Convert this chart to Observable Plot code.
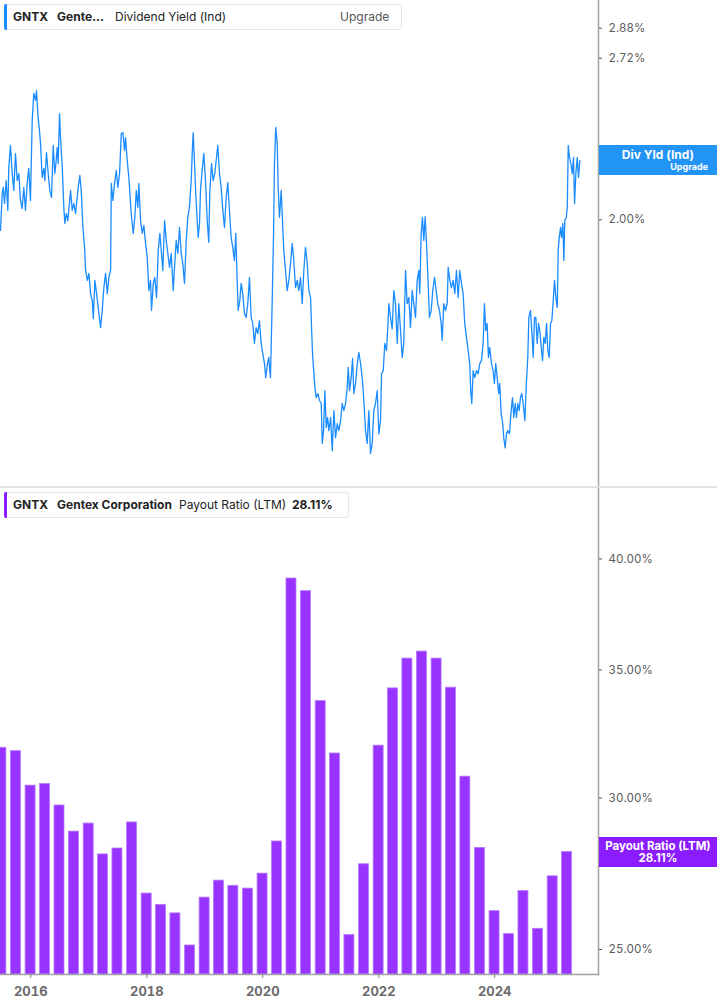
<!DOCTYPE html>
<html>
<head>
<meta charset="utf-8">
<script src="https://cdn.jsdelivr.net/npm/d3@7"></script>
<script src="https://cdn.jsdelivr.net/npm/@observablehq/plot@0.6"></script>
<style>
html,body{margin:0;padding:0;background:#fff;}
body{width:717px;height:1005px;position:relative;overflow:hidden;font-family:Inter,"Noto Sans",sans-serif;}
#topPanel{position:absolute;left:0;top:0;}
#bottomPanel{position:absolute;left:0;top:488px;}
.sep{position:absolute;left:0;top:486px;width:717px;height:2px;background:#e2e2e2;}
.hdr{position:absolute;left:4px;height:26px;border:1px solid #e6e6e6;border-radius:3px;background:#fff;box-sizing:border-box;font-size:12px;color:#222;white-space:nowrap;}
.hdr .bar{position:absolute;left:-1px;top:-1px;bottom:-1px;width:3px;border-radius:2px 0 0 2px;}
.hdr span{position:absolute;top:5px;line-height:14px;}
.b{font-weight:700;}
.tag{position:absolute;left:599px;width:118px;height:30px;color:#fff;font-weight:700;box-sizing:border-box;}
</style>
</head>
<body>
<div id="topPanel"></div>
<div class="sep"></div>
<div id="bottomPanel"></div>

<div class="hdr" style="top:4px;width:398px;">
  <div class="bar" style="background:#1a8cff"></div>
  <span class="b" style="left:8px">GNTX</span>
  <span class="b" style="left:52px">Gente…</span>
  <span style="left:110px">Dividend Yield (Ind)</span>
  <span style="left:335px;color:#555">Upgrade</span>
</div>
<div class="hdr" style="top:492px;width:345px;">
  <div class="bar" style="background:#8a1cff"></div>
  <span class="b" style="left:8px">GNTX</span>
  <span class="b" style="left:52px">Gentex Corporation</span>
  <span style="left:174px">Payout Ratio (LTM)</span>
  <span class="b" style="left:287px">28.11%</span>
</div>

<div id="dyTag" class="tag" style="background:#2394f7">
  <div style="position:absolute;left:0;width:118px;top:3px;text-align:center;font-size:12px;line-height:13px;">Div Yld (Ind)</div>
  <div style="position:absolute;right:9px;top:17px;font-size:9px;line-height:10px;">Upgrade</div>
</div>
<div id="prTag" class="tag" style="background:#8a1cff">
  <div style="position:absolute;left:0;width:118px;top:3px;text-align:center;font-size:11.5px;line-height:12px;">Payout Ratio (LTM)</div>
  <div style="position:absolute;left:0;width:118px;top:15px;text-align:center;font-size:11.5px;line-height:12px;">28.11%</div>
</div>

<script>
// ---------- Data ----------
// Dividend yield (Ind), %, sampled from the chart; times as decimal years
const dyTime = [
2015.478,2015.507,2015.525,2015.547,2015.576,2015.604,2015.621,2015.650,2015.680,2015.707,
2015.737,2015.766,2015.794,2015.823,2015.852,2015.880,2015.909,2015.938,2015.966,2015.995,
2016.025,2016.052,2016.081,2016.099,2016.121,2016.150,2016.168,2016.197,2016.225,2016.242,
2016.271,2016.300,2016.328,2016.357,2016.386,2016.414,2016.438,2016.455,2016.472,2016.495,
2016.512,2016.542,2016.569,2016.587,2016.611,2016.638,2016.685,2016.714,2016.742,2016.771,
2016.811,2016.845,2016.869,2016.897,2016.926,2016.944,2016.973,2017.000,2017.030,2017.059,
2017.076,2017.104,2017.133,2017.173,2017.202,2017.231,2017.259,2017.288,2017.318,2017.345,
2017.375,2017.387,2017.414,2017.444,2017.473,2017.500,2017.530,2017.559,2017.587,2017.616,
2017.633,2017.662,2017.690,2017.731,2017.766,2017.793,2017.818,2017.845,2017.862,2017.892,
2017.921,2017.949,2017.978,2018.007,2018.035,2018.064,2018.081,2018.111,2018.138,2018.168,
2018.197,2018.225,2018.249,2018.276,2018.306,2018.335,2018.362,2018.392,2018.421,2018.456,
2018.478,2018.507,2018.535,2018.564,2018.593,2018.621,2018.650,2018.680,2018.707,2018.736,
2018.766,2018.783,2018.800,2018.823,2018.845,
2018.869,2018.886,2018.909,2018.926,2018.955,2018.983,2019.012,2019.042,2019.069,2019.086,
2019.116,2019.145,2019.173,2019.197,2019.224,2019.254,2019.283,2019.311,2019.340,2019.369,
2019.397,2019.426,2019.455,2019.483,2019.512,2019.535,2019.559,2019.576,2019.604,2019.628,
2019.655,2019.685,2019.714,2019.742,2019.771,2019.800,2019.828,2019.857,2019.886,2019.914,
2019.943,2019.973,2020.000,2020.030,2020.052,2020.081,2020.104,2020.133,2020.162,2020.185,
2020.202,2020.224,2020.249,2020.266,2020.288,2020.318,2020.340,2020.362,2020.392,2020.421,
2020.449,2020.478,2020.507,2020.535,2020.564,2020.593,2020.621,2020.650,2020.680,2020.707,
2020.736,2020.766,2020.793,2020.823,2020.840,2020.857,2020.880,2020.897,2020.921,2020.949,
2020.978,2021.007,2021.024,2021.047,2021.069,2021.093,2021.116,2021.138,2021.168,2021.197,
2021.225,2021.254,2021.283,2021.311,2021.340,2021.369,2021.397,2021.426,2021.455,2021.473,
2021.495,2021.524,2021.547,2021.569,2021.599,2021.628,2021.655,2021.685,2021.714,2021.742,
2021.771,2021.800,2021.828,2021.857,2021.886,2021.914,2021.943,2021.973,2022.000,2022.030,
2022.047,2022.076,2022.104,2022.133,2022.155,2022.173,2022.202,2022.231,2022.259,2022.288,
2022.318,2022.345,2022.375,2022.404,2022.431,2022.461,2022.490,2022.518,2022.547,2022.576,
2022.604,2022.633,2022.662,2022.690,2022.707,2022.731,2022.754,2022.776,2022.800,2022.823,
2022.845,2022.874,2022.904,2022.931,2022.961,2022.990,2023.017,2023.047,2023.076,2023.093,
2023.121,2023.150,2023.180,2023.197,2023.225,2023.254,2023.283,2023.311,2023.340,2023.369,
2023.397,2023.426,2023.455,2023.483,2023.512,2023.542,2023.569,2023.586,2023.604,2023.628,
2023.655,2023.685,2023.714,2023.742,2023.771,2023.800,2023.823,2023.845,2023.869,2023.892,
2023.914,2023.943,2023.973,2023.995,2024.017,2024.042,2024.069,2024.086,2024.111,2024.138,
2024.155,2024.180,2024.202,2024.225,2024.254,2024.283,2024.306,2024.328,2024.352,2024.375,
2024.397,2024.421,2024.443,2024.466,2024.490,2024.518,2024.547,2024.569,2024.587,2024.616,
2024.645,2024.662,2024.685,2024.707,2024.731,2024.754,2024.776,2024.800,2024.823,2024.845,
2024.869,2024.892,2024.914,2024.938,2024.961,2024.983,2025.007,2025.030,2025.052,2025.076,
2025.093,2025.111,2025.133,2025.150,2025.173,2025.190,2025.207,2025.231,2025.249,2025.266,
2025.288,2025.311,2025.335,2025.357,2025.375,2025.397,2025.421,2025.443,2025.466
];
const dyValue = [
1.960,2.103,2.127,2.063,2.155,2.036,2.210,2.304,2.184,2.115,
2.269,2.155,2.184,2.075,2.044,2.127,2.036,2.143,2.205,2.075,
2.416,2.544,2.510,2.558,2.448,2.370,2.313,2.168,2.205,2.155,
2.273,2.184,2.115,2.087,2.304,2.184,2.239,2.295,2.226,2.448,
2.339,2.210,2.048,1.986,2.024,1.997,2.115,2.036,2.063,2.024,
2.115,2.176,2.115,1.971,1.898,1.816,1.782,1.806,1.738,1.715,
1.657,1.782,1.738,1.673,1.629,1.683,1.758,1.806,1.738,1.792,
1.816,2.143,2.075,2.143,2.197,2.127,2.184,2.357,2.361,2.282,
2.339,2.239,2.168,2.024,1.949,2.009,2.115,2.048,2.143,1.997,
1.949,1.979,1.912,1.862,1.748,1.782,1.683,1.772,1.792,1.725,
1.887,1.949,1.887,1.816,1.997,1.923,1.876,1.827,1.876,1.748,
1.827,1.923,1.876,1.971,1.876,1.840,1.772,1.923,2.009,2.048,
2.155,2.269,2.361,2.226,2.103,
1.997,1.934,1.986,2.115,2.197,2.269,2.155,1.997,1.916,2.103,
2.226,2.155,2.184,2.239,2.304,2.184,2.127,2.036,1.971,2.087,
2.147,2.036,1.934,1.898,1.851,1.949,1.782,1.683,1.715,1.772,
1.738,1.673,1.661,1.705,1.792,1.661,1.642,1.581,1.629,1.611,
1.651,1.581,1.551,1.521,1.481,1.521,1.539,1.481,1.705,1.934,
2.226,2.384,2.313,2.127,2.009,2.115,1.997,1.887,1.816,1.748,
1.782,1.840,1.912,1.851,1.758,1.782,1.748,1.792,1.705,1.816,
1.898,1.840,1.748,1.725,1.629,1.551,1.492,1.453,1.426,1.437,
1.418,1.410,1.307,1.339,1.445,1.347,1.373,1.339,1.373,1.289,
1.391,1.321,1.357,1.339,1.365,1.410,1.391,1.410,1.453,1.510,
1.445,1.481,1.536,1.437,1.465,1.521,1.554,1.521,1.481,1.418,
1.339,1.307,1.391,1.282,1.307,1.391,1.410,1.445,1.331,1.365,
1.492,1.501,1.581,1.560,1.629,1.705,1.661,1.625,1.748,1.705,
1.581,1.705,1.620,1.539,1.581,1.816,1.705,1.725,1.629,1.748,
1.705,1.661,1.782,1.816,1.738,1.949,2.009,1.923,2.012,1.912,
1.806,1.661,1.683,1.748,1.792,1.748,1.705,1.683,1.642,1.590,
1.705,1.683,1.705,1.827,1.782,1.758,1.782,1.738,1.816,1.725,
1.816,1.772,1.738,1.642,1.599,1.560,1.521,1.445,1.410,1.501,
1.481,1.501,1.492,1.521,1.530,1.581,1.705,1.620,1.642,1.539,
1.569,1.521,1.501,1.465,1.521,1.481,1.437,1.465,1.383,1.357,
1.321,1.296,1.331,1.339,1.331,1.391,1.426,1.373,1.410,1.373,
1.410,1.391,1.426,1.437,1.410,1.365,1.473,1.539,1.661,1.683,
1.599,1.539,1.661,1.661,1.581,1.642,1.620,1.569,1.530,1.599,
1.581,1.642,1.560,1.539,1.642,1.651,1.715,1.782,1.725,1.693,
1.887,1.934,1.971,1.934,1.986,1.851,1.997,2.009,2.048,2.304,
2.252,2.226,2.184,2.252,2.063,2.184,2.252,2.168,2.239
];

// Payout ratio (LTM), %, quarterly (quarter-end dates)
const payoutQuarter = [
"2015-06-30","2015-09-30","2015-12-31","2016-03-31","2016-06-30","2016-09-30","2016-12-31","2017-03-31",
"2017-06-30","2017-09-30","2017-12-31","2018-03-31","2018-06-30","2018-09-30","2018-12-31","2019-03-31",
"2019-06-30","2019-09-30","2019-12-31","2020-03-31","2020-06-30","2020-09-30","2020-12-31","2021-03-31",
"2021-06-30","2021-09-30","2021-12-31","2022-03-31","2022-06-30","2022-09-30","2022-12-31","2023-03-31",
"2023-06-30","2023-09-30","2023-12-31","2024-03-31","2024-06-30","2024-09-30","2024-12-31","2025-03-31"
];
const payoutValue = [
31.87,31.74,30.45,30.51,29.73,28.81,29.09,28.03,
28.23,29.13,26.74,26.38,26.11,25.12,26.61,27.16,
26.99,26.90,27.39,28.47,39.07,38.48,33.71,31.65,
25.44,27.70,31.95,34.23,35.48,35.78,35.48,34.26,
30.78,28.25,26.18,25.47,26.82,25.63,27.30,28.11
];

// Axis ticks
const yieldTicks = [2.00, 2.72, 2.88];
const payoutTicks = [25, 30, 35, 40];
const yearTicks = [2016, 2018, 2020, 2022, 2024];

// ---------- Helpers ----------
function fromDecimalYear(t) {
  const y = Math.floor(t);
  const a = Date.UTC(y, 0, 1), b = Date.UTC(y + 1, 0, 1);
  return new Date(a + (t - y) * (b - a));
}
const DAY = 86400000;
const nPts = Math.min(dyTime.length, dyValue.length);
const dyData = d3.range(nPts).map(i => ({date: fromDecimalYear(dyTime[i]), value: dyValue[i]}));
const prData = payoutQuarter.map((q, i) => ({date: new Date(q + "T00:00:00Z"), value: payoutValue[i]}));

const xDomain = [fromDecimalYear(2015.478), fromDecimalYear(2025.788)];
const yTopDomain = [1.2017, 3.0358];
const yBotDomain = [24.258, 43.54];
const axisGray = "#a2a2a2";
const fontStack = "Inter, 'Noto Sans', sans-serif";

// ---------- Top panel: dividend yield ----------
const topChart = Plot.plot({
  width: 717, height: 487,
  marginLeft: 0, marginRight: 119, marginTop: 0, marginBottom: 0,
  style: {fontFamily: fontStack, background: "transparent", overflow: "visible"},
  x: {type: "utc", domain: xDomain, axis: null},
  y: {type: "log", domain: yTopDomain},
  marks: [
    Plot.frame({anchor: "right", stroke: axisGray, strokeWidth: 1.5}),
    Plot.axisY(yieldTicks, {anchor: "right", tickSize: 3, tickPadding: 7, stroke: "#555",
      tickFormat: d => d.toFixed(2) + "%", fill: "#5a5a5a", fontSize: 11.5, label: null}),
    Plot.line(dyData, {x: "date", y: "value", stroke: "#1a8cff", strokeWidth: 1.3, strokeLinejoin: "round"})
  ]
});
document.getElementById("topPanel").appendChild(topChart);

// ---------- Bottom panel: payout ratio ----------
const halfBar = 31.5 * DAY;
const bottomChart = Plot.plot({
  width: 717, height: 517,
  marginLeft: 0, marginRight: 119, marginTop: 0, marginBottom: 31,
  style: {fontFamily: fontStack, background: "transparent", overflow: "visible"},
  x: {type: "utc", domain: xDomain},
  y: {type: "log", domain: yBotDomain},
  marks: [
    Plot.rect(prData, {
      x1: d => new Date(+d.date - halfBar), x2: d => new Date(+d.date + halfBar),
      y1: () => yBotDomain[0], y2: "value",
      fill: "#9933ff", stroke: "#b47bff", strokeWidth: 0.8
    }),
    Plot.frame({anchor: "right", stroke: axisGray, strokeWidth: 1.5}),
    Plot.frame({anchor: "bottom", stroke: axisGray, strokeWidth: 1.5}),
    Plot.axisY(payoutTicks, {anchor: "right", tickSize: 3, tickPadding: 7, stroke: "#555",
      tickFormat: d => d.toFixed(2) + "%", fill: "#5a5a5a", fontSize: 11.5, label: null}),
    Plot.axisX(yearTicks.map(y => new Date(Date.UTC(y, 0, 1))), {anchor: "bottom", tickSize: 4, tickPadding: 8,
      stroke: "#888", tickFormat: d3.utcFormat("%Y"), fill: "#6b6b6b", fontSize: 13, fontWeight: "bold", label: null})
  ]
});
document.getElementById("bottomPanel").appendChild(bottomChart);

// ---------- Right-side value tags positioned via the scales ----------
const lastDy = dyData[dyData.length - 1].value;
const dyY = topChart.scale("y").apply(lastDy);
document.getElementById("dyTag").style.top = (dyY - 15) + "px";
const lastPr = prData[prData.length - 1].value;
const prY = 488 + bottomChart.scale("y").apply(lastPr);
document.getElementById("prTag").style.top = (prY - 15) + "px";
</script>
</body>
</html>
